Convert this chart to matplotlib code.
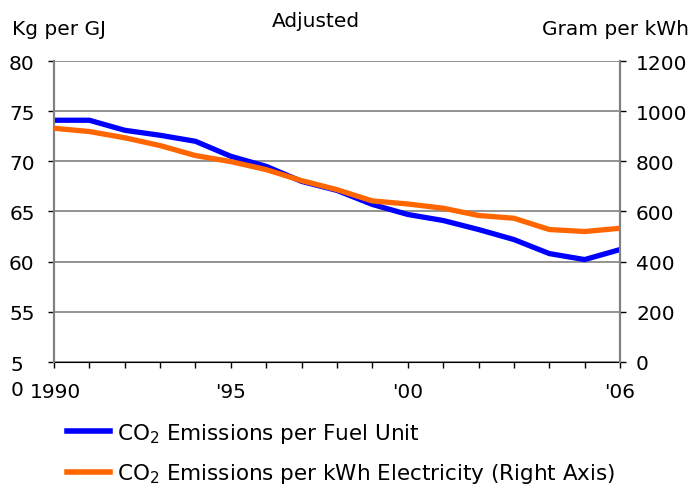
import matplotlib.pyplot as plt
from matplotlib.lines import Line2D

years = list(range(1990, 2007))
fuel_unit = [74.1, 74.1, 73.1, 72.6, 72.0, 70.5, 69.5, 68.0, 67.1, 65.7,
             64.7, 64.1, 63.2, 62.2, 60.8, 60.2, 61.2]
electricity = [932, 919, 894, 863, 823, 799, 767, 723, 687, 642,
               630, 613, 584, 573, 528, 520, 533]
left_ticks = [50, 55, 60, 65, 70, 75, 80]
left_labels = ['', '55', '60', '65', '70', '75', '80']
right_ticks = [0, 200, 400, 600, 800, 1000, 1200]
x_label_pos = [1990, 1995, 2000, 2006]
x_labels = ['1990', "'95", "'00", "'06"]

blue = '#0000ff'
orange = '#ff6600'
fs = 14.5

fig = plt.figure(figsize=(6.92, 4.89), dpi=100)
ax = fig.add_axes([0.078, 0.258, 0.818, 0.615])
ax2 = ax.twinx()

ax.plot(years, fuel_unit, color=blue, lw=3.8, solid_joinstyle='miter', zorder=3)
ax2.plot(years, electricity, color=orange, lw=3.8, solid_joinstyle='miter', zorder=3)

ax.set_xlim(1990, 2006)
ax.set_ylim(50, 80)
ax2.set_ylim(0, 1200)

ax.set_yticks(left_ticks)
ax.set_yticklabels(left_labels, fontsize=fs)
ax2.set_yticks(right_ticks)
ax2.set_yticklabels([str(t) for t in right_ticks], fontsize=fs)
ax.set_xticks(years)
ax.set_xticklabels(['' for y in years])
for xp, lab in zip(x_label_pos, x_labels):
    ax.text(xp + (0.03 if xp == 1990 else 0), 47.0, lab, ha='center', va='center', fontsize=fs)
# the "50" label wraps onto two lines in the original
fig.text(0.025, 1 - 366 / 489, '5', fontsize=fs, ha='center', va='center')
fig.text(0.024, 1 - 391 / 489, '0', fontsize=fs, ha='center', va='center')

ax.grid(axis='y', color='#808080', lw=1.2)
ax.set_axisbelow(True)
ax.tick_params(axis='y', length=4.5, width=1, color='black', pad=9.4)
ax2.tick_params(axis='y', length=4.5, width=1, color='black', pad=7)
ax.tick_params(axis='x', length=4.5, width=1, color='black', direction='out')
for a in (ax, ax2):
    a.spines['top'].set_visible(False)
    a.spines['left'].set_color('#808080')
    a.spines['right'].set_color('#808080')
    a.spines['bottom'].set_color('black')
    a.spines['left'].set_linewidth(1.5)
    a.spines['right'].set_linewidth(1.5)
ax2.spines['bottom'].set_visible(False)

fig.text(0.018, 0.94, 'Kg per GJ', fontsize=fs, va='center')
fig.text(0.457, 0.957, 'Adjusted', fontsize=fs, va='center', ha='center')
fig.text(0.996, 0.94, 'Gram per kWh', fontsize=fs, va='center', ha='right')

handles = [Line2D([], [], color=blue, lw=4),
           Line2D([], [], color=orange, lw=4)]
labels = ['CO$_2$ Emissions per Fuel Unit',
          'CO$_2$ Emissions per kWh Electricity (Right Axis)']
fig.legend(handles, labels, loc='upper left', bbox_to_anchor=(0.097, 0.137),
           frameon=False, fontsize=15.5, handlelength=2.0, handletextpad=0.3,
           labelspacing=0.75, borderaxespad=0, borderpad=0)

fig.savefig('out.png', dpi=100)
